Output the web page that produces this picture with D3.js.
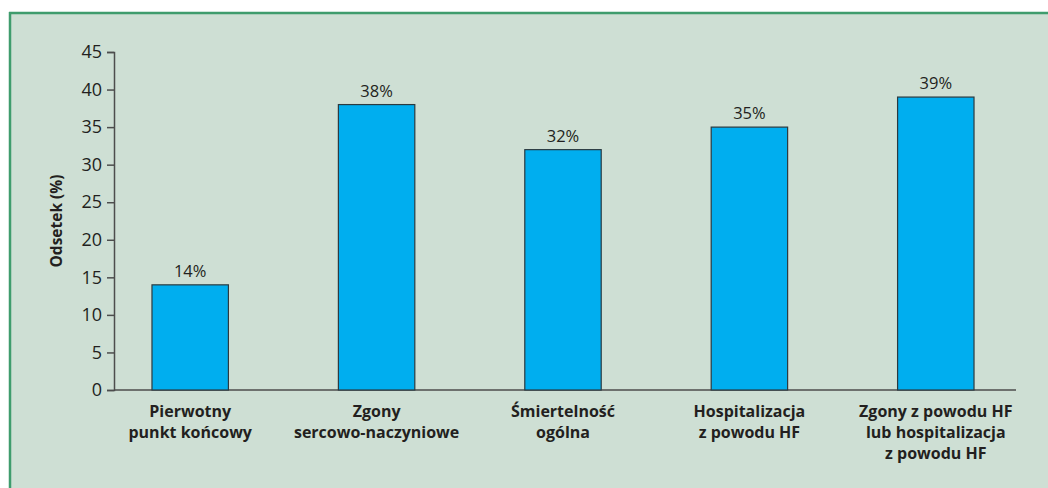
<html><head>
<meta charset="utf-8">
<script src="https://d3js.org/d3.v7.min.js"></script>
<style>
  body { margin: 0; background: #fff; }
  .axis text { font-family: "Open Sans", sans-serif; font-size: 18px; fill: #231f20; }
  .axis path, .axis line { stroke: #4d4d4d; stroke-width: 1.5px; }
  .cat { font-family: "Open Sans", sans-serif; font-weight: 700; font-size: 16px; fill: #231f20; }
  .val { font-family: "Open Sans", sans-serif; font-size: 16.5px; fill: #231f20; }
</style>
</head>
<body>
<svg id="chart" width="1048" height="488"></svg>
<script>
  // data
  const categories = [
    ["Pierwotny", "punkt końcowy"],
    ["Zgony", "sercowo-naczyniowe"],
    ["Śmiertelność", "ogólna"],
    ["Hospitalizacja", "z powodu HF"],
    ["Zgony z powodu HF", "lub hospitalizacja", "z powodu HF"]
  ];
  const values = [14, 38, 32, 35, 39];
  const yTicks = [0, 5, 10, 15, 20, 25, 30, 35, 40, 45];
  const yTitle = "Odsetek (%)";

  const svg = d3.select("#chart");

  // panel background with green border on top/left
  svg.append("rect").attr("x", 9).attr("y", 12).attr("width", 1048).attr("height", 488)
    .attr("fill", "#cedfd4");
  svg.append("line").attr("x1", 9).attr("x2", 1048).attr("y1", 13).attr("y2", 13)
    .attr("stroke", "#3f9c6d").attr("stroke-width", 2.5);
  svg.append("line").attr("x1", 10).attr("x2", 10).attr("y1", 12).attr("y2", 488)
    .attr("stroke", "#3f9c6d").attr("stroke-width", 2.5);

  const axisLeft = 114, axisRight = 1016;
  const y = d3.scaleLinear().domain([0, 45]).range([390, 52]);
  const x = d3.scaleBand().domain(d3.range(values.length)).range([97, 1029]);
  const barW = x.bandwidth() * 0.41;

  // y axis
  const yAxis = d3.axisLeft(y).tickValues(yTicks).tickSize(7).tickSizeOuter(7).tickPadding(5);
  svg.append("g").attr("class", "axis").attr("transform", "translate(" + axisLeft + ",0)").call(yAxis);

  // baseline
  svg.append("line").attr("x1", axisLeft).attr("x2", axisRight).attr("y1", y(0)).attr("y2", y(0))
    .attr("stroke", "#4d4d4d").attr("stroke-width", 1.5);

  // bars
  svg.selectAll(".bar").data(values).enter().append("rect")
    .attr("class", "bar")
    .attr("x", (d, i) => x(i) + x.bandwidth() / 2 - barW / 2)
    .attr("y", d => y(d))
    .attr("width", barW)
    .attr("height", d => y(0) - y(d))
    .attr("fill", "#00aeef")
    .attr("stroke", "#2b3a40")
    .attr("stroke-width", 1.2);

  // value labels
  svg.selectAll(".val").data(values).enter().append("text")
    .attr("class", "val")
    .attr("x", (d, i) => x(i) + x.bandwidth() / 2)
    .attr("y", d => y(d) - 8)
    .attr("text-anchor", "middle")
    .text(d => d + "%");

  // category labels
  categories.forEach((lines, i) => {
    const t = svg.append("text").attr("class", "cat")
      .attr("x", x(i) + x.bandwidth() / 2)
      .attr("y", 417)
      .attr("text-anchor", "middle");
    lines.forEach((l, j) => {
      t.append("tspan").attr("x", x(i) + x.bandwidth() / 2).attr("dy", j === 0 ? 0 : 21).text(l);
    });
  });

  // y title
  svg.append("text").attr("class", "cat")
    .attr("transform", "translate(62," + ((y(0) + y(45)) / 2) + ") rotate(-90)")
    .attr("text-anchor", "middle")
    .style("font-size", "15.5px")
    .text(yTitle);
</script>
</body>
</html>
